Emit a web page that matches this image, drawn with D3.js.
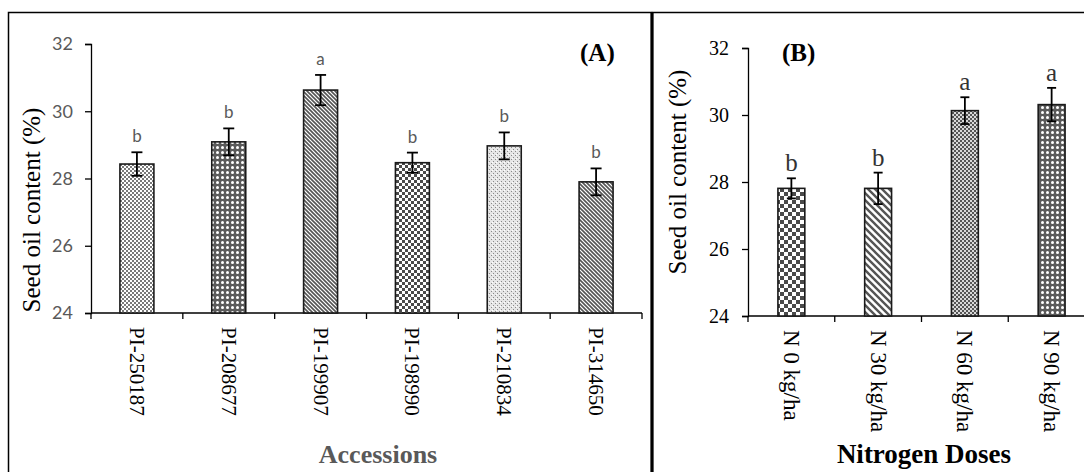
<!DOCTYPE html>
<html>
<head>
<meta charset="utf-8">
<script src="https://cdn.jsdelivr.net/npm/d3@7"></script>
<style>
  body { margin: 0; background: #fff; }
  svg { display: block; }
</style>
</head>
<body>
<svg id="chart" width="1084" height="472"></svg>
<script>
// panel A: accessions
const accessions = ["PI-250187", "PI-208677", "PI-199907", "PI-198990", "PI-210834", "PI-314650"];
const accMean = [28.43, 29.09, 30.63, 28.47, 28.97, 27.9];
const accErr = [0.35, 0.4, 0.45, 0.3, 0.4, 0.4];
const accLetters = ["b", "b", "a", "b", "b", "b"];

// panel B: nitrogen doses
const doses = ["N 0 kg/ha", "N 30 kg/ha", "N 60 kg/ha", "N 90 kg/ha"];
const doseMean = [27.81, 27.81, 30.13, 30.31];
const doseErr = [0.3, 0.47, 0.4, 0.5];
const doseLetters = ["b", "b", "a", "a"];

const yTicks = [24, 26, 28, 30, 32];

const serif = "'Liberation Serif', 'Times New Roman', serif";
const svg = d3.select("#chart");
const defs = svg.append("defs");

// fill patterns (excel style)
function pat(id, w, h, bg) {
  const p = defs.append("pattern").attr("id", id)
    .attr("patternUnits", "userSpaceOnUse").attr("width", w).attr("height", h);
  p.append("rect").attr("width", w).attr("height", h).attr("fill", bg);
  return p;
}
let p;
p = pat("fineCheck", 4, 4, "#fff");
p.append("rect").attr("x", 0).attr("y", 0).attr("width", 2).attr("height", 2).attr("fill", "#7a7a7a");
p.append("rect").attr("x", 2).attr("y", 2).attr("width", 2).attr("height", 2).attr("fill", "#7a7a7a");

p = pat("fineCheckDark", 4, 4, "#d8d8d8");
p.append("rect").attr("x", 0).attr("y", 0).attr("width", 2).attr("height", 2).attr("fill", "#555");
p.append("rect").attr("x", 2).attr("y", 2).attr("width", 2).attr("height", 2).attr("fill", "#555");

p = pat("dots", 5, 5, "#5a5a5a");
p.append("circle").attr("cx", 2.5).attr("cy", 2.5).attr("r", 1.5).attr("fill", "#fff");

p = pat("diagFine", 4, 4, "#fff");
p.append("path").attr("d", "M-1,-1 L5,5 M-1,3 L1,5 M3,-1 L5,1").attr("stroke", "#555").attr("stroke-width", 1.6);

p = pat("check", 6, 6, "#fff");
p.append("rect").attr("x", 0).attr("y", 0).attr("width", 3).attr("height", 3).attr("fill", "#4a4a4a");
p.append("rect").attr("x", 3).attr("y", 3).attr("width", 3).attr("height", 3).attr("fill", "#4a4a4a");

p = pat("checkBig", 8, 8, "#fff");
p.append("rect").attr("x", 0).attr("y", 0).attr("width", 4).attr("height", 4).attr("fill", "#4a4a4a");
p.append("rect").attr("x", 4).attr("y", 4).attr("width", 4).attr("height", 4).attr("fill", "#4a4a4a");

p = pat("lattice", 4, 4, "#e6e6e6");
p.append("rect").attr("x", 1).attr("y", 1).attr("width", 1).attr("height", 1).attr("fill", "#8a8a8a");
p.append("rect").attr("x", 3).attr("y", 3).attr("width", 1).attr("height", 1).attr("fill", "#8a8a8a");
p.append("rect").attr("x", 0).attr("y", 2).attr("width", 1).attr("height", 1).attr("fill", "#fff");

p = pat("diagWide", 7, 7, "#fff");
p.append("path").attr("d", "M-2,-2 L9,9 M-2,5 L2,9 M5,-2 L9,2").attr("stroke", "#555").attr("stroke-width", 2.4);

// frames
svg.append("rect").attr("x", 8.5).attr("y", 12.5).attr("width", 643).attr("height", 480)
  .attr("fill", "none").attr("stroke", "#000").attr("stroke-width", 1.5);
svg.append("rect").attr("x", 652.5).attr("y", 12.5).attr("width", 450).attr("height", 480)
  .attr("fill", "none").attr("stroke", "#000").attr("stroke-width", 1.5);
svg.append("line").attr("x1", 652).attr("x2", 652).attr("y1", 12).attr("y2", 472)
  .attr("stroke", "#000").attr("stroke-width", 3);

function drawPanel(cfg) {
  const g = svg.append("g");
  const x = d3.scaleBand().domain(cfg.cats).range(cfg.xRange).paddingInner(cfg.pad).paddingOuter(cfg.pad / 2);
  const y = d3.scaleLinear().domain([24, 32]).range(cfg.yRange);
  const rows = cfg.cats.map((c, i) => ({ c, v: cfg.mean[i], e: cfg.err[i], l: cfg.letters[i], f: cfg.fills[i] }));

  // y axis
  const ya = g.append("g").attr("transform", `translate(${cfg.xRange[0]},0)`)
    .call(d3.axisLeft(y).tickValues(yTicks).tickSize(6).tickPadding(cfg.yPad));
  ya.select(".domain").attr("stroke", "#000").attr("stroke-width", 1.3);
  ya.selectAll(".tick line").attr("stroke", "#000").attr("stroke-width", 1.3);
  ya.selectAll(".tick text").attr("font-family", cfg.tickFont).attr("font-size", cfg.tickSize)
    .attr("fill", cfg.tickColor);

  // x axis: ticks between categories
  const base = cfg.yRange[0];
  g.append("line").attr("x1", cfg.xRange[0]).attr("x2", cfg.xRange[1]).attr("y1", base).attr("y2", base)
    .attr("stroke", "#000").attr("stroke-width", 1.3);
  const step = x.step();
  const edges = d3.range(cfg.cats.length + 1).map(i => cfg.xRange[0] + i * step);
  g.selectAll(".xt").data(edges).enter().append("line")
    .attr("x1", d => d).attr("x2", d => d).attr("y1", base).attr("y2", base + 6)
    .attr("stroke", "#000").attr("stroke-width", 1.3);

  g.selectAll(".xl").data(rows).enter().append("text")
    .attr("transform", d => `translate(${x(d.c) + x.bandwidth() / 2 - cfg.xLabSize * 0.33},${base + 14}) rotate(90)`)
    .attr("font-family", serif)
    .attr("font-size", cfg.xLabSize).attr("fill", "#000")
    .text(d => d.c);

  // bars
  g.selectAll(".bar").data(rows).enter().append("rect")
    .attr("x", d => x(d.c)).attr("width", x.bandwidth())
    .attr("y", d => y(d.v)).attr("height", d => y(24) - y(d.v))
    .attr("fill", d => `url(#${d.f})`).attr("stroke", "#1a1a1a").attr("stroke-width", 1.6);

  // error bars
  const cx = d => x(d.c) + x.bandwidth() / 2;
  const eb = g.selectAll(".eb").data(rows).enter().append("g")
    .attr("stroke", "#000").attr("stroke-width", 1.8);
  eb.append("line").attr("x1", cx).attr("x2", cx).attr("y1", d => y(d.v + d.e)).attr("y2", d => y(d.v - d.e));
  eb.append("line").attr("x1", d => cx(d) - cfg.cap).attr("x2", d => cx(d) + cfg.cap)
    .attr("y1", d => y(d.v + d.e)).attr("y2", d => y(d.v + d.e));
  eb.append("line").attr("x1", d => cx(d) - cfg.cap).attr("x2", d => cx(d) + cfg.cap)
    .attr("y1", d => y(d.v - d.e)).attr("y2", d => y(d.v - d.e));

  // significance letters
  g.selectAll(".sig").data(rows).enter().append("text")
    .attr("x", cx).attr("y", d => y(d.v + d.e) - cfg.letGap)
    .attr("text-anchor", "middle").attr("font-family", cfg.letFont)
    .attr("font-size", cfg.letSize).attr("fill", cfg.letColor)
    .text(d => d.l);

  // axis titles
  g.append("text")
    .attr("transform", `translate(${cfg.yTitleX},${cfg.yTitleY}) rotate(-90)`)
    .attr("text-anchor", "middle")
    .attr("font-family", serif)
    .attr("font-size", 25).attr("fill", "#000")
    .text("Seed oil content (%)");
  g.append("text")
    .attr("x", cfg.xTitleX).attr("y", 463)
    .attr("text-anchor", "middle")
    .attr("font-family", serif)
    .attr("font-weight", "bold").attr("font-size", cfg.xTitleSize).attr("fill", cfg.xTitleColor)
    .text(cfg.xTitle);
  g.append("text")
    .attr("x", cfg.tagX).attr("y", 61)
    .attr("font-family", serif)
    .attr("font-weight", "bold").attr("font-size", 25).attr("fill", "#000")
    .text(cfg.tag);
}

drawPanel({
  cats: accessions, mean: accMean, err: accErr, letters: accLetters,
  fills: ["fineCheck", "dots", "diagFine", "check", "lattice", "diagFine"],
  xRange: [91, 642], yRange: [313, 44], pad: 0.63,
  tickFont: "Lato, 'Open Sans', sans-serif", tickSize: 18, tickColor: "#595959", yPad: 12,
  xLabSize: 21, cap: 5.5, letGap: 10,
  letFont: "Lato, 'Open Sans', sans-serif", letSize: 17, letColor: "#595959",
  yTitleX: 40, yTitleY: 210,
  xTitle: "Accessions", xTitleX: 378, xTitleSize: 26, xTitleColor: "#595959",
  tag: "(A)", tagX: 580
});

drawPanel({
  cats: doses, mean: doseMean, err: doseErr, letters: doseLetters,
  fills: ["checkBig", "diagWide", "fineCheckDark", "dots"],
  xRange: [748, 1095], yRange: [316, 48], pad: 0.69,
  tickFont: serif, tickSize: 20, tickColor: "#000", yPad: 13,
  xLabSize: 23, cap: 4.5, letGap: 7,
  letFont: serif, letSize: 25, letColor: "#333",
  yTitleX: 686, yTitleY: 172,
  xTitle: "Nitrogen Doses", xTitleX: 924, xTitleSize: 27, xTitleColor: "#000",
  tag: "(B)", tagX: 782
});
</script>
</body>
</html>
